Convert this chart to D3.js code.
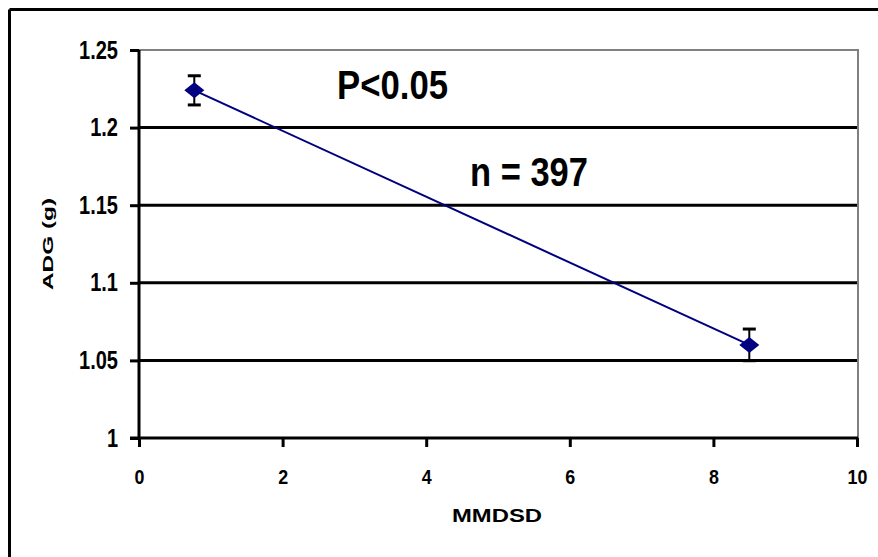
<!DOCTYPE html>
<html>
<head>
<meta charset="utf-8">
<script src="https://cdn.jsdelivr.net/npm/d3@7"></script>
<style>
  html, body { margin: 0; padding: 0; background: #fff; }
  svg { display: block; }
  text { font-family: "Liberation Sans", Arial, sans-serif; fill: #000; }
</style>
</head>
<body>
<svg id="chart" width="878" height="557"></svg>
<script>
// Average daily gain against MMDSD, mean ± SE for two groups
const mmdsd = [0.77, 8.5];
const adg = [1.224, 1.06];
const adgErr = [0.0094, 0.0102];
const xTicks = [0, 2, 4, 6, 8, 10];
const yTicks = [1, 1.05, 1.1, 1.15, 1.2, 1.25];
const yTickLabels = ["1", "1.05", "1.1", "1.15", "1.2", "1.25"];
const notes = ["P<0.05", "n = 397"];

const svg = d3.select("#chart");
const plotL = 139, plotR = 857, plotT = 50, plotB = 438;

const x = d3.scaleLinear().domain([0, 10]).range([plotL, plotR]);
const y = d3.scaleLinear().domain([1, 1.25]).range([plotB, plotT]);

// outer frame (top and left edges)
svg.append("line").attr("x1", 9.5).attr("x2", 878).attr("y1", 9.5).attr("y2", 9.5)
  .attr("stroke", "#000").attr("stroke-width", 3);
svg.append("line").attr("x1", 9.5).attr("x2", 9.5).attr("y1", 9.5).attr("y2", 557)
  .attr("stroke", "#000").attr("stroke-width", 3);

// plot area border: grey top and right
svg.append("line").attr("x1", plotL).attr("x2", plotR + 1).attr("y1", plotT).attr("y2", plotT)
  .attr("stroke", "#808080").attr("stroke-width", 2);
svg.append("line").attr("x1", plotR + 1).attr("x2", plotR + 1).attr("y1", plotT - 1).attr("y2", plotB)
  .attr("stroke", "#808080").attr("stroke-width", 2);

// horizontal gridlines
svg.append("g").selectAll("line")
  .data(yTicks.filter(v => v > 1 && v < 1.25))
  .join("line")
  .attr("x1", plotL).attr("x2", plotR)
  .attr("y1", d => y(d)).attr("y2", d => y(d))
  .attr("stroke", "#000").attr("stroke-width", 3);

// narrow the tick glyphs a little
function condense(sel, k) {
  sel.each(function () {
    const w = this.getComputedTextLength();
    d3.select(this).attr("textLength", w * k).attr("lengthAdjust", "spacingAndGlyphs");
  });
}

// y axis
const yAxis = d3.axisLeft(y).tickValues(yTicks)
  .tickFormat((d, i) => yTickLabels[i]).tickSize(9).tickPadding(12);
const gy = svg.append("g").attr("transform", `translate(${plotL},0)`).call(yAxis)
  .attr("font-size", null).attr("font-family", null);
gy.select(".domain").attr("stroke", "#000").attr("stroke-width", 3)
  .attr("d", `M0,${plotT}V${plotB + 1}`);
gy.selectAll(".tick line").attr("stroke", "#000").attr("stroke-width", 3);
gy.selectAll(".tick text")
  .style("font-size", "25px").style("font-weight", "bold")
  .style("font-family", "'Liberation Sans', Arial, sans-serif")
  .attr("fill", "#000")
  .call(condense, 0.8);

// x axis
const xAxis = d3.axisBottom(x).tickValues(xTicks).tickFormat(d3.format("d"))
  .tickSize(9).tickPadding(22);
const gx = svg.append("g").attr("transform", `translate(0,${plotB})`).call(xAxis)
  .attr("font-size", null).attr("font-family", null);
gx.select(".domain").attr("stroke", "#000").attr("stroke-width", 3)
  .attr("d", `M${plotL - 9},0H${plotR + 1}`);
gx.selectAll(".tick line").attr("stroke", "#000").attr("stroke-width", 3);
gx.selectAll(".tick text")
  .style("font-size", "21px").style("font-weight", "bold")
  .style("font-family", "'Liberation Sans', Arial, sans-serif")
  .attr("fill", "#000")
  .call(condense, 0.85);

// axis titles
svg.append("text").attr("x", 497).attr("y", 522).attr("text-anchor", "middle")
  .style("font-size", "18px").attr("font-weight", "bold")
  .attr("textLength", 90).attr("lengthAdjust", "spacingAndGlyphs")
  .text("MMDSD");
svg.append("text").attr("transform", "translate(53,244) rotate(-90)")
  .attr("text-anchor", "middle").style("font-size", "15px").attr("font-weight", "bold")
  .attr("textLength", 92).attr("lengthAdjust", "spacingAndGlyphs")
  .text("ADG (g)");

// regression line through the group means
const pts = mmdsd.map((v, i) => ({ x: v, y: adg[i], e: adgErr[i] }));
svg.append("path").datum(pts)
  .attr("fill", "none").attr("stroke", "#000080").attr("stroke-width", 2)
  .attr("d", d3.line().x(d => x(d.x)).y(d => y(d.y)));

// error bars
const eb = svg.append("g").selectAll("g").data(pts).join("g");
eb.append("line")
  .attr("x1", d => x(d.x)).attr("x2", d => x(d.x))
  .attr("y1", d => y(d.y + d.e)).attr("y2", d => y(d.y - d.e))
  .attr("stroke", "#000").attr("stroke-width", 2);
eb.selectAll(".cap").data(d => [d.y + d.e, d.y - d.e].map(v => ({ x: d.x, v })))
  .join("line").attr("class", "cap")
  .attr("x1", d => x(d.x) - 6.5).attr("x2", d => x(d.x) + 6.5)
  .attr("y1", d => y(d.v)).attr("y2", d => y(d.v))
  .attr("stroke", "#000").attr("stroke-width", 3);

// diamond markers
svg.append("g").selectAll("path").data(pts).join("path")
  .attr("d", d => {
    const cx = x(d.x), cy = y(d.y);
    return `M${cx},${cy - 8}L${cx + 10},${cy}L${cx},${cy + 8}L${cx - 10},${cy}Z`;
  })
  .attr("fill", "#000080");

// annotations
svg.append("text").attr("x", 337).attr("y", 99).style("font-size", "40px")
  .attr("font-weight", "bold")
  .attr("textLength", 111).attr("lengthAdjust", "spacingAndGlyphs")
  .text(notes[0]);
svg.append("text").attr("x", 470).attr("y", 186).style("font-size", "40px")
  .attr("font-weight", "bold")
  .attr("textLength", 118).attr("lengthAdjust", "spacingAndGlyphs")
  .text(notes[1]);
</script>
</body>
</html>
